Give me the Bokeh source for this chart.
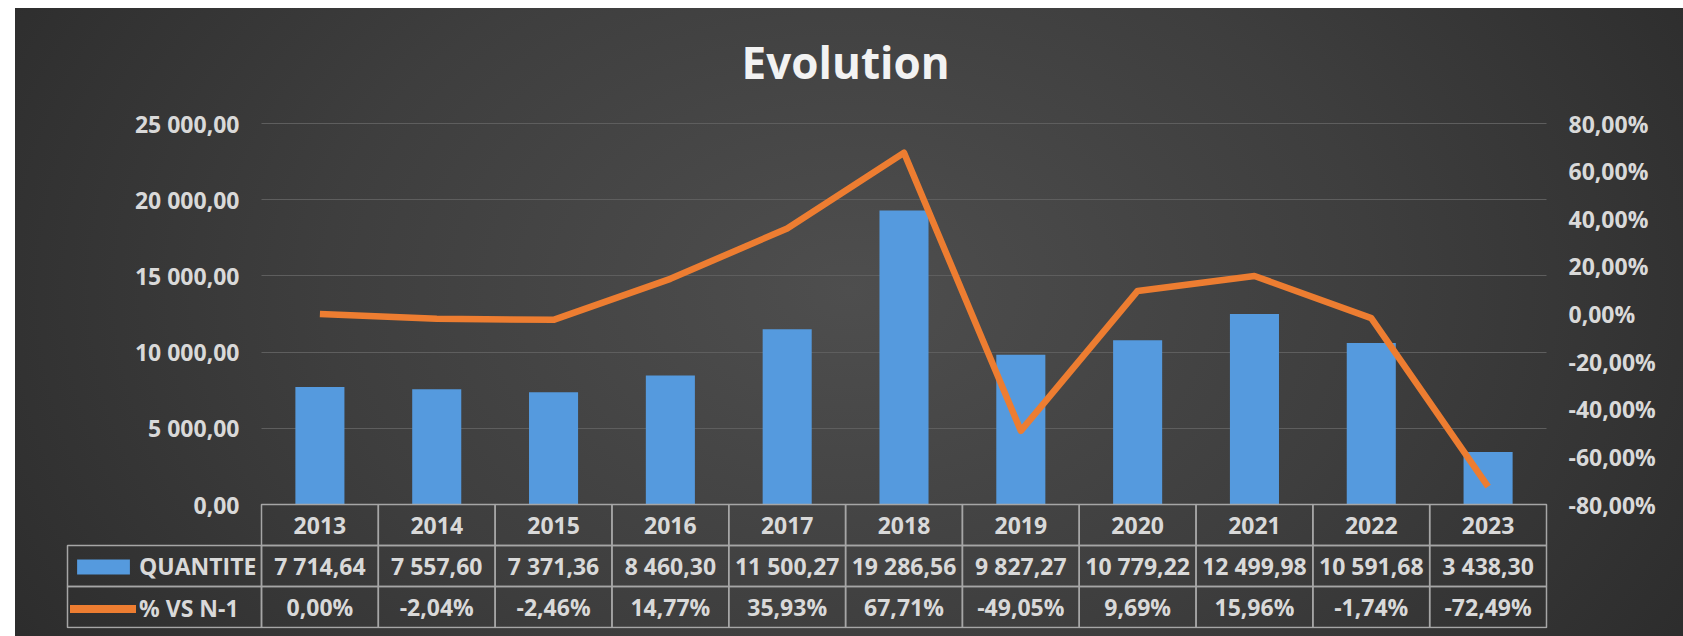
from bokeh.plotting import figure
from bokeh.models import (Range1d, LinearAxis, FixedTicker, Label, Grid,
                          Legend, LegendItem, ColumnDataSource)
from bokeh.embed import file_html
from bokeh.resources import INLINE
from bokeh.core.properties import value

# ---------------- data ----------------
years = ["2013", "2014", "2015", "2016", "2017", "2018", "2019", "2020", "2021", "2022", "2023"]
quantite = [7714.64, 7557.60, 7371.36, 8460.30, 11500.27, 19286.56, 9827.27,
            10779.22, 12499.98, 10591.68, 3438.30]
pct_vs_n1 = [0.00, -2.04, -2.46, 14.77, 35.93, 67.71, -49.05, 9.69, 15.96, -1.74, -72.49]

left_ticks = [0, 5000, 10000, 15000, 20000, 25000]
left_tick_labels = ["0,00", "5 000,00", "10 000,00", "15 000,00", "20 000,00", "25 000,00"]
right_ticks = [-80, -60, -40, -20, 0, 20, 40, 60, 80]
right_tick_labels = ["-80,00%", "-60,00%", "-40,00%", "-20,00%", "0,00%",
                     "20,00%", "40,00%", "60,00%", "80,00%"]
title_text = "Evolution"
series_names = ["QUANTITE", "% VS N-1"]


def fr_number(v):
    return f"{v:,.2f}".replace(",", " ").replace(".", ",")


def fr_pct(v):
    return f"{v:.2f}".replace(".", ",") + "%"


# ---------------- style / layout constants ----------------
FONT = "Open Sans"
TXT = "#d9d9d9"
BLUE = "#559ade"
ORANGE = "#ed7d31"
GRID_C = "#5e5e5e"
BORDER = "#a6a6a6"
BGSTYLE = {"background-image": "radial-gradient(ellipse 70% 130% at 50% 45%, "
                               "#4e4e4e 0%, #3e3e3e 45%, #252525 100%)"}

W, H = 1668, 628
n = len(years)
COL_PX = 1285 / n            # width of one year column
LEG_PX = 196                 # legend column of the data table (+ 2px pad)
TOP_PX = 115                 # space above the value area (title zone)
PLOT_PX = 381                # height of the value area
TABLE_PX = 124               # table rows + bottom pad
ROW_PX = 41
BOTTOM = 8

# ---------------- figure ----------------
xc = [i + 0.5 for i in range(n)]
src = ColumnDataSource(dict(x=xc, year=years, quantite=quantite, pct=pct_vs_n1))

ymax = 25000
p = figure(x_range=Range1d(-LEG_PX / COL_PX, n + 2 / COL_PX),
           y_range=Range1d(-ymax * TABLE_PX / PLOT_PX, ymax * (PLOT_PX + TOP_PX) / PLOT_PX),
           width=W, height=H, output_backend="svg", toolbar_location=None,
           x_axis_location=None, y_axis_location="left",
           min_border_left=50, min_border_right=135,
           min_border_top=0, min_border_bottom=BOTTOM,
           margin=(8, 0, 0, 15), styles=BGSTYLE)
p.border_fill_color = None
p.background_fill_color = None
p.outline_line_color = None
p.xgrid.visible = False

title = Label(x=n / 2 - 0.5, y=ymax * (PLOT_PX + 62) / PLOT_PX, text=title_text,
              text_align="center", text_baseline="middle",
              text_font=FONT, text_font_style="bold", text_font_size="44px",
              text_color="#f2f2f2")
p.add_layout(title)

ya = p.yaxis[0]
ya.ticker = FixedTicker(ticks=left_ticks)
ya.major_label_overrides = dict(zip(left_ticks, left_tick_labels))
ya.axis_line_color = None
ya.major_tick_line_color = None
ya.minor_tick_line_color = None
ya.major_label_standoff = -180
ya.major_label_text_font = FONT
ya.major_label_text_font_style = "bold"
ya.major_label_text_font_size = "23px"
ya.major_label_text_color = TXT

p.ygrid.ticker = FixedTicker(ticks=left_ticks)
p.ygrid.grid_line_color = GRID_C
p.ygrid.grid_line_width = 1
if "cross_bounds" in Grid.properties():
    p.ygrid.cross_bounds = (0, n)

p.extra_y_ranges = {
    "pct": Range1d(-80 - 160 * TABLE_PX / PLOT_PX, 80 + 160 * TOP_PX / PLOT_PX),
    "tbl": Range1d(-1 / ROW_PX, (PLOT_PX + TABLE_PX + TOP_PX - 1) / ROW_PX),
}
ra = LinearAxis(y_range_name="pct", ticker=FixedTicker(ticks=right_ticks),
                major_label_overrides=dict(zip(right_ticks, right_tick_labels)))
ra.axis_line_color = None
ra.major_tick_line_color = None
ra.minor_tick_line_color = None
ra.major_label_standoff = 14
ra.major_label_text_font = FONT
ra.major_label_text_font_style = "bold"
ra.major_label_text_font_size = "23px"
ra.major_label_text_color = TXT
p.add_layout(ra, "right")

p.vbar(x="x", top="quantite", width=0.42, source=src,
       fill_color=BLUE, line_color=None)
p.line(x="x", y="pct", source=src, y_range_name="pct",
       line_color=ORANGE, line_width=6.5, line_join="round")

# ---------------- data table ----------------
idx = list(range(n))
leg_left = -(LEG_PX - 2) / COL_PX
cells = ColumnDataSource(dict(
    left=idx * 3 + [leg_left] * 2,
    right=[i + 1 for i in idx] * 3 + [0, 0],
    bottom=[2] * n + [1] * n + [0] * n + [1, 0],
    top=[3] * n + [2] * n + [1] * n + [2, 1],
))
p.quad(left="left", right="right", bottom="bottom", top="top", source=cells,
       y_range_name="tbl", fill_color=None, line_color=BORDER, line_width=1.5)

texts = ColumnDataSource(dict(
    x=xc * 3,
    y=[2.5] * n + [1.5] * n + [0.5] * n,
    txt=years + [fr_number(v) for v in quantite] + [fr_pct(v) for v in pct_vs_n1],
))
p.text(x="x", y="y", text="txt", source=texts, y_range_name="tbl",
       text_align="center", text_baseline="middle", text_font=value(FONT),
       text_font_style="bold", text_font_size="23px", text_color=TXT)

# legend keys (zero-height bar / single-point line: only their swatches show)
rb = p.vbar(x=[0.5], top=[0], bottom=[0], width=0.4, fill_color=BLUE, line_color=None)
rl = p.line(x=[0.5], y=[0], line_color=ORANGE, line_width=8, line_cap="round")
legend = Legend(items=[LegendItem(label=series_names[0], renderers=[rb]),
                       LegendItem(label=series_names[1], renderers=[rl])],
                location=(5, 4), orientation="vertical",
                padding=0, margin=0, spacing=10,
                glyph_width=66, glyph_height=19, label_standoff=3,
                label_text_font=FONT, label_text_font_style="bold",
                label_text_font_size="23px", label_text_color=TXT,
                background_fill_alpha=0, border_line_alpha=0)
p.add_layout(legend)

open("out.html", "w").write(file_html(p, INLINE))
